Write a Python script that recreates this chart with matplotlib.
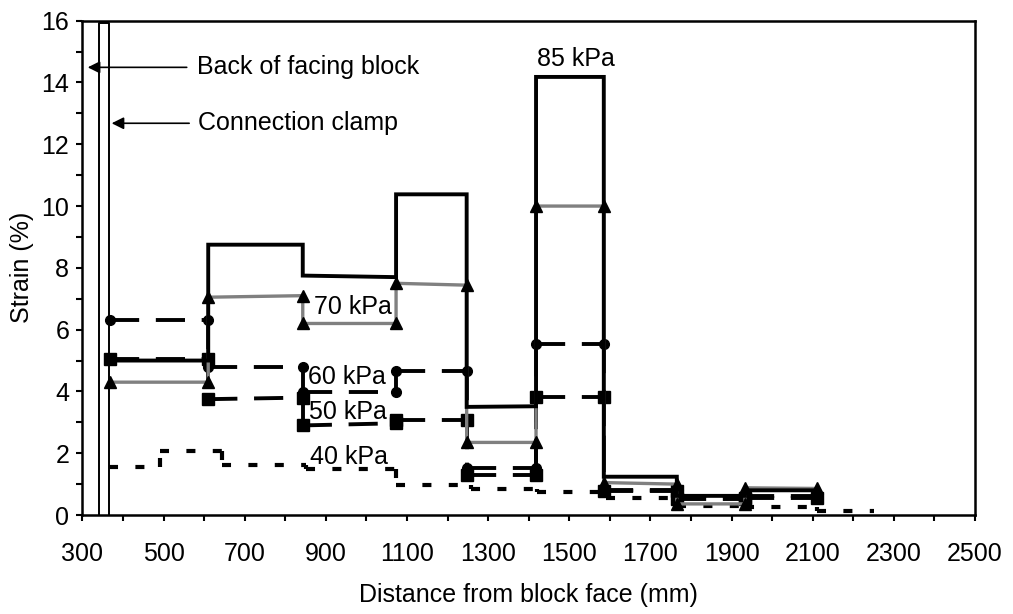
import matplotlib
matplotlib.use('Agg')
import matplotlib.pyplot as plt

plt.rcParams['font.family'] = ['Liberation Sans', 'DejaVu Sans']
plt.rcParams['lines.scale_dashes'] = False

# ---------------- data ----------------
# gauge boundaries (mm from block face)
x_gauge = [368, 610, 843, 1073, 1247, 1418, 1585, 1765, 1933, 2110]

# strain (%) at the start / end of each gauge interval
s85_start = [5.0, 8.75, 7.75, 10.38, 3.5, 14.18, 1.24, 0.62, 0.8]
s85_end   = [5.0, 8.75, 7.70, 10.38, 3.52, 14.18, 1.24, 0.62, 0.8]

s70_start = [4.3, 7.05, 6.2, 7.5, 2.35, 10.0, 1.05, 0.36, 0.88]
s70_end   = [4.3, 7.10, 6.2, 7.44, 2.35, 10.0, 1.0, 0.36, 0.86]

s60_start = [6.3, 4.8, 3.98, 4.67, 1.52, 5.53, 0.82, 0.6, 0.6]
s60_end   = [6.3, 4.8, 3.98, 4.67, 1.52, 5.53, 0.82, 0.6, 0.6]

s50_start = [5.05, 3.75, 2.9, 3.07, 1.3, 3.82, 0.78, 0.52, 0.55]
s50_end   = [5.05, 3.80, 2.97, 3.07, 1.3, 3.82, 0.78, 0.52, 0.55]

# 40 kPa has its own step boundaries
x40 = [366, 491, 643, 852, 1074, 1257, 1420, 1590, 1765, 1933, 2110, 2250]
s40 = [1.56, 2.08, 1.63, 1.5, 0.97, 0.83, 0.75, 0.55, 0.3, 0.27, 0.14]

# connection clamp outline
clamp_x = [341, 365]
clamp_top = 15.93

FS = 18

# ---------------- figure ----------------
fig = plt.figure(figsize=(10.13, 6.14), dpi=100)
ax = fig.add_axes([0.0814, 0.1612, 0.8811, 0.8051])


def build(xb, starts, ends):
    xs, ys = [], []
    for i in range(len(starts)):
        xs += [xb[i], xb[i + 1]]
        ys += [starts[i], ends[i]]
    return xs, ys


def draw_dashed(xs, ys, color, lw, dashes, z):
    for j in range(len(xs) - 1):
        ln, = ax.plot(xs[j:j + 2], ys[j:j + 2], color=color, lw=lw,
                      zorder=z, dash_capstyle='butt')
        ln.set_dashes(dashes)


# 40 kPa (dotted, no markers)
xs40, ys40 = build(x40, s40, s40)
draw_dashed(xs40, ys40, 'black', 3.0, (6.5, 12.5), 2)

# 50 kPa (long dash, squares)
xs, ys = build(x_gauge, s50_start, s50_end)
draw_dashed(xs, ys, 'black', 2.8, (21, 12), 3)
ax.plot(xs, ys, ls='none', marker='s', ms=8, color='black', zorder=3)

# 60 kPa (long dash, circles)
xs, ys = build(x_gauge, s60_start, s60_end)
draw_dashed(xs, ys, 'black', 2.8, (21, 12), 4)
ax.plot(xs, ys, ls='none', marker='o', ms=7, color='black', zorder=4)

# 70 kPa (gray solid, triangles)
xs, ys = build(x_gauge, s70_start, s70_end)
ax.plot(xs, ys, color='#808080', lw=2.4, zorder=5, solid_joinstyle='miter')
ax.plot(xs, ys, ls='none', marker='^', ms=8.5, color='black', zorder=5)

# 85 kPa (black solid)
xs, ys = build(x_gauge, s85_start, s85_end)
ax.plot(xs, ys, color='black', lw=2.8, zorder=6, solid_joinstyle='miter')

# clamp
ax.plot([clamp_x[0], clamp_x[0], clamp_x[1], clamp_x[1]],
        [0, clamp_top, clamp_top, 0], color='black', lw=1.4, zorder=7)

# annotations
ap = dict(arrowstyle='-|>', color='black', lw=1.2, mutation_scale=18,
          shrinkA=0, shrinkB=0)
ax.annotate('', xy=(313, 14.49), xytext=(557, 14.49), arrowprops=ap)
ax.text(583, 14.49, 'Back of facing block', fontsize=FS, va='center', ha='left')
ax.annotate('', xy=(372, 12.68), xytext=(563, 12.68), arrowprops=ap)
ax.text(585, 12.68, 'Connection clamp', fontsize=FS, va='center', ha='left')

ax.text(1517, 14.75, '85 kPa', fontsize=FS, va='center', ha='center')
ax.text(870, 6.74, '70 kPa', fontsize=FS, va='center', ha='left')
ax.text(856, 4.48, '60 kPa', fontsize=FS, va='center', ha='left')
ax.text(858, 3.34, '50 kPa', fontsize=FS, va='center', ha='left')
ax.text(862, 1.89, '40 kPa', fontsize=FS, va='center', ha='left')

# axes
ax.set_xlim(300, 2500)
ax.set_ylim(0, 16)
ax.set_xticks(range(300, 2501, 200))
ax.set_xticks(range(300, 2501, 100), minor=True)
ax.set_yticks(range(0, 17, 2))
ax.set_yticks(range(0, 17, 1), minor=True)
ax.tick_params(which='both', direction='out', length=4.5, width=1.5,
               color='black')
ax.tick_params(axis='x', which='major', labelsize=FS, pad=15)
ax.tick_params(axis='y', which='major', labelsize=FS, pad=5)
for sp in ax.spines.values():
    sp.set_linewidth(1.8)
    sp.set_color('black')

ax.set_xlabel('Distance from block face (mm)', fontsize=FS, labelpad=12)
ax.set_ylabel('Strain (%)', fontsize=FS, labelpad=5)

fig.savefig('out.png', dpi=100)
